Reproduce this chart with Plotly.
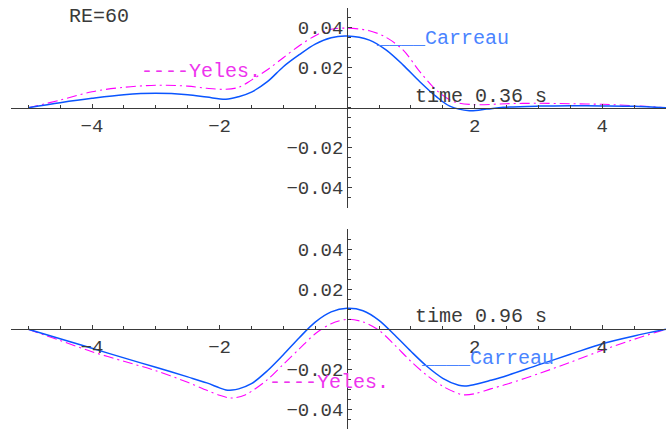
import plotly.graph_objects as go

# ---- data ----
top_carreau_x = [-5, -4.5, -4, -3.5, -3, -2.5, -2.2, -1.9, -1.7, -1.5, -1.25, -1.0, -0.75, -0.5, -0.25, 0,
                 0.35, 0.61, 0.88, 1.14, 1.40, 1.61, 1.92, 2.19, 2.45, 3.0, 3.5, 4.0, 4.5, 5]
top_carreau_y = [0, 0.0025, 0.0047, 0.0065, 0.0072, 0.0065, 0.0053, 0.0042, 0.0055, 0.0078, 0.013, 0.0205,
                 0.0265, 0.0318, 0.035, 0.0358, 0.0338, 0.0289, 0.0213, 0.013, 0.0055, 0.0008, -0.0015,
                 -0.0007, 0.0002, 0.0008, 0.001, 0.0009, 0.0007, 0]

top_yeles_x = [-5, -4.5, -4, -3.5, -3, -2.5, -2.2, -1.9, -1.7, -1.5, -1.25, -1.0, -0.75, -0.5, -0.25, 0,
               0.35, 0.61, 0.88, 1.14, 1.40, 1.67, 2.0, 2.5, 3.0, 3.5, 4.0, 4.5, 5]
top_yeles_y = [0, 0.0038, 0.008, 0.0102, 0.0112, 0.0108, 0.0097, 0.0092, 0.0102, 0.0138, 0.019, 0.025,
               0.031, 0.036, 0.0392, 0.0398, 0.0385, 0.0352, 0.0288, 0.018, 0.0088, 0.003, 0.0015, 0.002,
               0.0022, 0.002, 0.0017, 0.001, 0]

bot_carreau_x = [-5, -4.5, -4, -3.5, -3, -2.5, -2.2, -2.0, -1.9, -1.8, -1.7, -1.5, -1.25, -1.0, -0.75,
                 -0.5, -0.25, 0, 0.25, 0.5, 0.75, 1.0, 1.25, 1.5, 1.75, 1.85, 2.0, 2.25, 2.5, 3.0, 3.5,
                 4.0, 4.5, 5]
bot_carreau_y = [0, -0.0047, -0.0095, -0.0143, -0.019, -0.0238, -0.0268, -0.0293, -0.0303, -0.0304,
                 -0.0298, -0.0272, -0.0207, -0.0127, -0.0042, 0.0036, 0.0087, 0.0105, 0.0093, 0.0045,
                 -0.003, -0.011, -0.0185, -0.0245, -0.028, -0.0284, -0.0276, -0.0255, -0.0232, -0.0178,
                 -0.0125, -0.0072, -0.0033, 0]

bot_yeles_x = [-5, -4.5, -4, -3.5, -3, -2.5, -2.2, -2.0, -1.85, -1.75, -1.6, -1.5, -1.25, -1.0, -0.75,
               -0.5, -0.25, 0, 0.25, 0.5, 0.75, 1.0, 1.25, 1.5, 1.75, 1.85, 2.0, 2.25, 2.5, 3.0, 3.5,
               4.0, 4.5, 5]
bot_yeles_y = [0, -0.0056, -0.0112, -0.016, -0.0207, -0.0265, -0.0305, -0.033, -0.0343, -0.0342,
               -0.0328, -0.031, -0.0252, -0.0175, -0.0098, -0.0022, 0.0028, 0.005, 0.0037, -0.0005,
               -0.008, -0.016, -0.023, -0.0285, -0.0322, -0.0328, -0.0322, -0.0298, -0.0275, -0.0222,
               -0.0165, -0.0105, -0.005, 0]

x_tickvals = [-4, -2, 2, 4]
x_ticktext = ["\u22124", "\u22122", "2", "4"]
y_tickvals = [-0.04, -0.02, 0.02, 0.04]
y_ticktext = ["\u22120.04", "\u22120.02", "0.02", "0.04"]

BLUE = "#0a55ff"
BLUE_TXT = "#4a84ff"
MAG = "#ff00ff"
MAG_TXT = "#ee33ee"
DARK = "#3a3a3a"
FONT = "Liberation Mono"

fig = go.Figure()

def add_pair(cx, cy, yx, yy, xa, ya):
    fig.add_trace(go.Scatter(x=yx, y=yy, mode="lines", xaxis=xa, yaxis=ya,
                             line=dict(color=MAG, width=1.1, dash="10px,4px,2px,4px", shape="spline", smoothing=0.9),
                             showlegend=False, hoverinfo="skip"))
    fig.add_trace(go.Scatter(x=cx, y=cy, mode="lines", xaxis=xa, yaxis=ya,
                             line=dict(color=BLUE, width=1.5, shape="spline", smoothing=0.9),
                             showlegend=False, hoverinfo="skip"))

add_pair(top_carreau_x, top_carreau_y, top_yeles_x, top_yeles_y, "x", "y")
add_pair(bot_carreau_x, bot_carreau_y, bot_yeles_x, bot_yeles_y, "x2", "y2")

H = 429.0
W = 672.0
xdom = [11 / W, 666 / W]
xrange_ = [-5.27, 5.0]
ypos = 347.2 / W

def xaxis_def(pos):
    return dict(domain=xdom, range=xrange_, anchor="free", position=pos,
                showline=True, linecolor=DARK, linewidth=1, showgrid=False, zeroline=False,
                ticks="inside", ticklen=4, tickcolor=DARK, tickwidth=1,
                tickmode="array", tickvals=x_tickvals, ticktext=x_ticktext,
                tickfont=dict(family=FONT, size=19, color=DARK),
                minor=dict(ticks="inside", ticklen=3, tickcolor=DARK, tickmode="linear", tick0=0, dtick=0.5),
                fixedrange=True)

def yaxis_def(dom, rng):
    return dict(domain=dom, range=rng, anchor="free", position=ypos,
                showline=True, linecolor=DARK, linewidth=1, showgrid=False, zeroline=False,
                ticks="inside", ticklen=4, tickcolor=DARK, tickwidth=1,
                tickmode="array", tickvals=y_tickvals, ticktext=y_ticktext,
                tickfont=dict(family=FONT, size=19, color=DARK),
                minor=dict(ticks="inside", ticklen=3, tickcolor=DARK, tickmode="linear", tick0=0, dtick=0.005),
                fixedrange=True)

fig.update_layout(
    width=672, height=429,
    margin=dict(l=0, r=0, t=0, b=0),
    paper_bgcolor="white", plot_bgcolor="white",
    xaxis=xaxis_def((H - 107.7) / H),
    yaxis=yaxis_def([(H - 207.7) / H, (H - 7.7) / H], [-0.05, 0.05]),
    xaxis2=xaxis_def((H - 329.3) / H),
    yaxis2=yaxis_def([0, (H - 229.3) / H], [-0.04985, 0.05]),
    showlegend=False,
)

def note(text, x, y, color, xref, yref):
    fig.add_annotation(text=text, x=x, y=y, xref=xref, yref=yref, xanchor="left", yanchor="middle",
                       showarrow=False, font=dict(family=FONT, size=20, color=color))

note("RE=60", -4.39, 0.0455, DARK, "x", "y")
note("----Yeles.", -3.26, 0.0180, MAG_TXT, "x", "y")
note("____Carreau", 0.42, 0.0345, BLUE_TXT, "x", "y")
note("time 0.36 s", 1.03, 0.0055, DARK, "x", "y")

note("time 0.96 s", 1.03, 0.0062, DARK, "x2", "y2")
note("____Carreau", 1.125, -0.0148, BLUE_TXT, "x2", "y2")
note("----Yeles.", -1.26, -0.0268, MAG_TXT, "x2", "y2")

fig.write_html("out.html")
